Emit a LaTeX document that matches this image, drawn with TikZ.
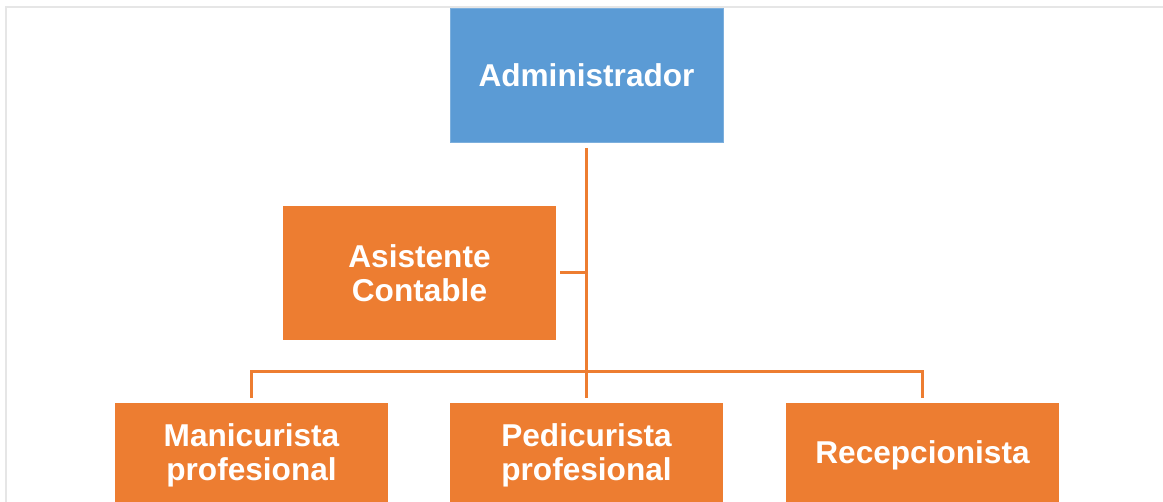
\documentclass[tikz,border=0pt]{standalone}
\usepackage{fontspec}
\setmainfont{Liberation Sans}
\definecolor{adminblue}{HTML}{5B9BD5}
\definecolor{staforange}{HTML}{ED7D31}
\definecolor{framegray}{HTML}{E6E6E6}
\begin{document}
\begin{tikzpicture}[x=1pt,y=-1pt,
  box/.style={rectangle, minimum width=273pt, minimum height=134pt, inner sep=0pt,
    text=white, align=center, font=\fontsize{31.6}{34}\selectfont\bfseries},
  bluebox/.style={box, fill=adminblue, draw=adminblue!80!white, line width=0.8pt},
  orangebox/.style={box, fill=staforange},
  lowbox/.style={orangebox, minimum height=104pt},
  link/.style={draw=staforange, line width=3pt}]
\useasboundingbox (0,0) rectangle (1163,502);

% page frame
\draw[framegray, line width=2pt] (5.5,503) -- (5.5,6.8) -- (1164,6.8);

% boxes
\node[bluebox] (admin) at (586.5,75.5) {Administrador};
\node[orangebox] (asist) at (419.5,273) {Asistente\\Contable};
\node[lowbox] (mani) at (251.5,455) {Manicurista\\profesional};
\node[lowbox] (pedi) at (586.5,455) {Pedicurista\\profesional};
\node[lowbox] (recep) at (922.5,455) {Recepcionista};

% connectors
\coordinate (bus) at (0,371.5);
\draw[link] ([yshift=-5pt]admin.south) -- (admin.south |- bus);
\draw[link] ([xshift=4pt]asist.east) -- (asist.east -| admin.south);
\draw[link] ([yshift=5pt]mani.north) -- (mani.north |- bus) -- (recep.north |- bus) -- ([yshift=5pt]recep.north);
\draw[link] ([yshift=5pt]pedi.north) -- (pedi.north |- bus);
\end{tikzpicture}
\end{document}
